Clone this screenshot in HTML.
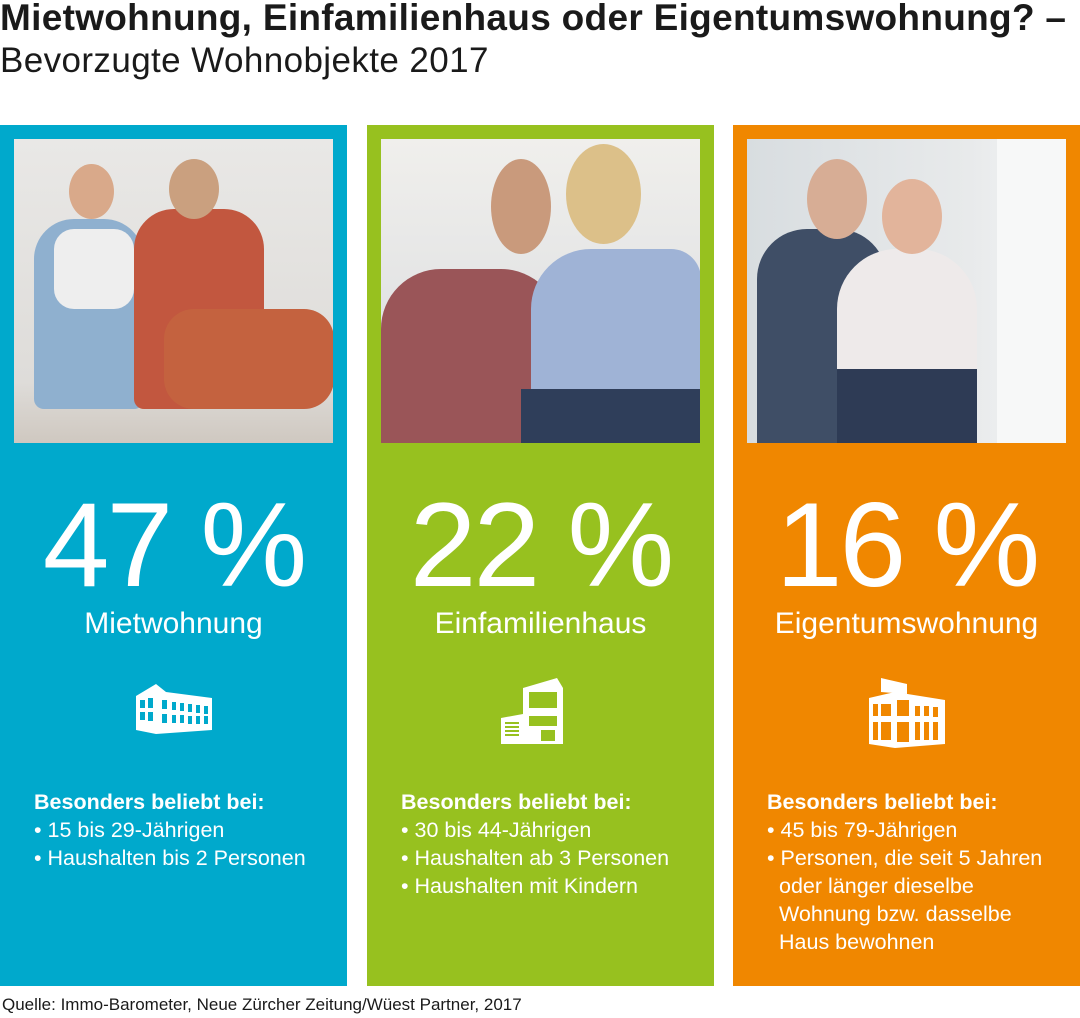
<!DOCTYPE html>
<html><head><meta charset="utf-8"><style>
body{margin:0;width:1080px;height:1018px;background:#fff;font-family:"Liberation Sans",sans-serif;position:relative;overflow:hidden;color:#1a1a1a}
.t1{position:absolute;left:0px;top:-3px;font-size:37px;font-weight:bold;letter-spacing:0.3px;white-space:nowrap}
.t2{position:absolute;left:0px;top:41px;font-size:35px;font-weight:normal;white-space:nowrap;letter-spacing:0.4px}
.p{position:absolute;top:125px;height:861px;width:347px;color:#fff}
.ph{position:absolute;left:14px;top:14px;width:319px;height:304px;overflow:hidden}
.big{position:absolute;left:0;width:100%;top:360px;text-align:center;font-size:120px;font-weight:normal;line-height:120px;letter-spacing:-3px}
.lab{position:absolute;left:0;width:100%;top:482px;text-align:center;font-size:30px}
.ic{position:absolute;top:553px;left:50%;transform:translateX(-50%)}
.lst{position:absolute;left:34px;top:663px;font-size:21.5px;line-height:28px}
.lst b{display:block}
.lst div{padding-left:12px;text-indent:-12px}
.src{position:absolute;left:2px;top:995px;font-size:17px}
</style></head><body>
<div class="t1">Mietwohnung, Einfamilienhaus oder Eigentumswohnung? –</div>
<div class="t2">Bevorzugte Wohnobjekte 2017</div>

<div class="p" style="left:0;background:#00a9cc">
 <div class="ph" style="background:linear-gradient(180deg,#e9e8e6 0%,#dedcd9 80%,#cfc8c0 100%)">
  <div style="position:absolute;left:20px;top:80px;width:110px;height:190px;background:#8fb0cf;border-radius:40px 40px 10px 10px"></div>
  <div style="position:absolute;left:40px;top:90px;width:80px;height:80px;background:#eee;border-radius:20px"></div>
  <div style="position:absolute;left:120px;top:70px;width:130px;height:200px;background:#c2573f;border-radius:40px 40px 10px 10px"></div>
  <div style="position:absolute;left:150px;top:170px;width:170px;height:100px;background:#c4623f;border-radius:30px"></div>
  <div style="position:absolute;left:55px;top:25px;width:45px;height:55px;background:#d9a98a;border-radius:50%"></div>
  <div style="position:absolute;left:155px;top:20px;width:50px;height:60px;background:#caa07f;border-radius:50%"></div>
 </div>
 <div class="big">47 %</div>
 <div class="lab">Mietwohnung</div>
 <svg class="ic" width="80" height="56" viewBox="0 0 80 56"><path d="M2 18 L22 6 L32 14 L78 20 L78 52 L22 56 L2 52Z" fill="#fff"/><g fill="#00a9cc"><rect x="6" y="22" width="5" height="8"/><rect x="14" y="20" width="5" height="10"/><rect x="6" y="34" width="5" height="8"/><rect x="14" y="34" width="5" height="9"/><rect x="28" y="22" width="5" height="9"/><rect x="38" y="24" width="4" height="8"/><rect x="46" y="25" width="4" height="8"/><rect x="54" y="26" width="4" height="8"/><rect x="62" y="27" width="4" height="8"/><rect x="70" y="28" width="4" height="8"/><rect x="28" y="36" width="5" height="9"/><rect x="38" y="37" width="4" height="8"/><rect x="46" y="37" width="4" height="8"/><rect x="54" y="38" width="4" height="8"/><rect x="62" y="38" width="4" height="8"/><rect x="70" y="38" width="4" height="8"/></g></svg>
 <div class="lst"><b>Besonders beliebt bei:</b><div>• 15 bis 29-Jährigen</div><div>• Haushalten bis 2 Personen</div></div>
</div>

<div class="p" style="left:367px;background:#97c11f">
 <div class="ph" style="background:linear-gradient(180deg,#f0efec 0%,#e2e3e4 60%,#cbd1dc 100%)">
  <div style="position:absolute;left:0;top:130px;width:180px;height:174px;background:#9a5558;border-radius:60px 60px 0 0"></div>
  <div style="position:absolute;left:150px;top:110px;width:170px;height:194px;background:#9fb3d6;border-radius:60px 30px 0 0"></div>
  <div style="position:absolute;left:140px;top:250px;width:180px;height:54px;background:#2f3e5a"></div>
  <div style="position:absolute;left:110px;top:20px;width:60px;height:95px;background:#c99a7c;border-radius:50%"></div>
  <div style="position:absolute;left:185px;top:5px;width:75px;height:100px;background:#dcc089;border-radius:50%"></div>
 </div>
 <div class="big">22 %</div>
 <div class="lab">Einfamilienhaus</div>
 <svg class="ic" width="80" height="70" viewBox="0 0 80 70"><path d="M22 10 L56 0 L62 10 L62 66 L22 66Z" fill="#fff"/><rect x="28" y="14" width="28" height="16" fill="#97c11f"/><rect x="28" y="38" width="28" height="10" fill="#97c11f"/><path d="M0 40 L22 36 L22 66 L0 66Z" fill="#fff"/><g fill="#97c11f"><rect x="4" y="44" width="14" height="2"/><rect x="4" y="48" width="14" height="2"/><rect x="4" y="52" width="14" height="2"/><rect x="4" y="56" width="14" height="2"/><rect x="40" y="52" width="14" height="11"/></g></svg>
 <div class="lst"><b>Besonders beliebt bei:</b><div>• 30 bis 44-Jährigen</div><div>• Haushalten ab 3 Personen</div><div>• Haushalten mit Kindern</div></div>
</div>

<div class="p" style="left:733px;width:347px;background:#f08700">
 <div class="ph" style="background:linear-gradient(90deg,#d8dde0 0%,#e8eaeb 70%,#f4f6f7 100%)">
  <div style="position:absolute;left:10px;top:90px;width:130px;height:214px;background:#3f4e66;border-radius:50px 50px 0 0"></div>
  <div style="position:absolute;left:90px;top:110px;width:140px;height:194px;background:#eeeaea;border-radius:60px 60px 0 0"></div>
  <div style="position:absolute;left:90px;top:230px;width:140px;height:74px;background:#2e3b55"></div>
  <div style="position:absolute;left:60px;top:20px;width:60px;height:80px;background:#d7ad95;border-radius:50%"></div>
  <div style="position:absolute;left:135px;top:40px;width:60px;height:75px;background:#e2b49b;border-radius:50%"></div>
  <div style="position:absolute;left:250px;top:0;width:69px;height:304px;background:#f7f8f8"></div>
 </div>
 <div class="big">16 %</div>
 <div class="lab">Eigentumswohnung</div>
 <svg class="ic" width="80" height="70" viewBox="0 0 80 70"><path d="M14 0 L40 6 L40 16 L14 14Z" fill="#fff"/><path d="M2 20 L28 14 L78 22 L78 66 L28 70 L2 66Z" fill="#fff"/><g fill="#f08700"><rect x="6" y="26" width="5" height="12"/><rect x="14" y="26" width="10" height="12"/><rect x="6" y="44" width="5" height="18"/><rect x="14" y="44" width="10" height="18"/><rect x="30" y="22" width="12" height="16"/><rect x="30" y="44" width="12" height="20"/><rect x="48" y="28" width="5" height="10"/><rect x="57" y="28" width="5" height="10"/><rect x="66" y="29" width="5" height="10"/><rect x="48" y="44" width="5" height="18"/><rect x="57" y="44" width="5" height="18"/><rect x="66" y="44" width="5" height="18"/></g></svg>
 <div class="lst" style="width:285px"><b>Besonders beliebt bei:</b><div>• 45 bis 79-Jährigen</div><div>• Personen, die seit 5 Jahren oder länger dieselbe Wohnung bzw. dasselbe Haus bewohnen</div></div>
</div>

<div class="src">Quelle: Immo-Barometer, Neue Zürcher Zeitung/Wüest Partner, 2017</div>
</body></html>
